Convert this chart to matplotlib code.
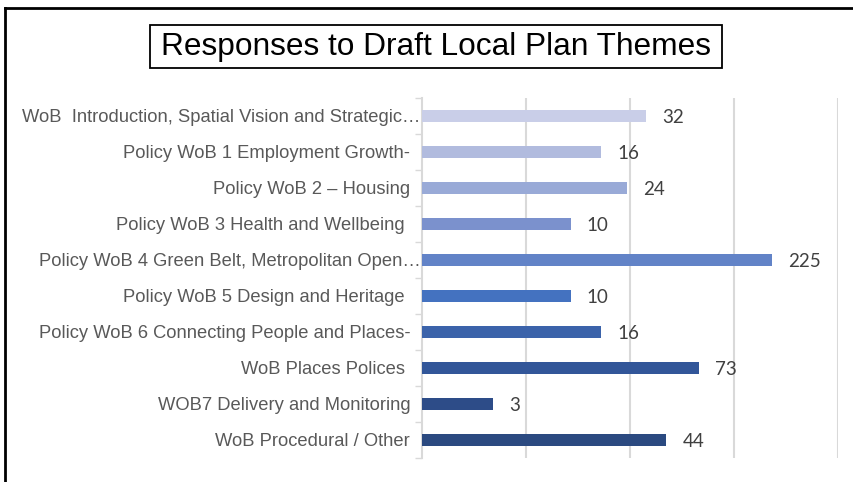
import matplotlib.pyplot as plt
from matplotlib.patches import Rectangle
from matplotlib.lines import Line2D
import numpy as np

labels = [
    "WoB  Introduction, Spatial Vision and Strategic\u2026",
    "Policy WoB 1 Employment Growth-  ",
    "Policy WoB 2 \u2013 Housing  ",
    "Policy WoB 3 Health and Wellbeing   ",
    "Policy WoB 4 Green Belt, Metropolitan Open\u2026",
    "Policy WoB 5 Design and Heritage   ",
    "Policy WoB 6 Connecting People and Places-  ",
    "WoB Places Polices   ",
    "WOB7 Delivery and Monitoring  ",
    "WoB Procedural / Other  ",
]
responses = [32, 16, 24, 10, 225, 10, 16, 73, 3, 44]
colours = ["#C9CEE8", "#B1BBDE", "#99AAD7", "#7B91CD", "#6283C7",
           "#4472C0", "#3B63AA", "#325699", "#2D4C88", "#2B4A80"]
grid_vals = [5, 25, 125, 625]

fig = plt.figure(figsize=(8.54, 4.82), dpi=100)
ax = fig.add_axes([0.494, 0.0498, 0.487, 0.747])

y = np.arange(len(labels))
# log axis starts at 1, so bars run from 1 up to the value
base = 1
ax.barh(y, [v - base for v in responses], height=0.31, left=base,
        color=colours, zorder=3)
ax.set_xscale("log", base=5)
ax.set_xlim(1, 625)
ax.set_ylim(len(labels) - 0.5, -0.5)

for yi, v in zip(y, responses):
    ax.annotate(str(v), (v, yi), xytext=(11.5, -1), textcoords="offset points",
                ha="left", va="center", fontsize=13.5, family="Lato",
                color="#404040")

ax.set_xticks(grid_vals)
ax.xaxis.set_minor_locator(plt.NullLocator())
ax.set_xticklabels([])
ax.tick_params(axis="x", length=0)
ax.grid(axis="x", color="#D9D9D9", linewidth=1.5, zorder=0)

ax.set_yticks(y)
ax.set_yticklabels(labels, fontsize=13.2, family="Liberation Sans", color="#595959")
ax.set_yticks(np.arange(len(labels) + 1) - 0.5, minor=True)
ax.tick_params(axis="y", which="major", length=0, pad=1)
ax.tick_params(axis="y", which="minor", length=5, color="#D9D9D9", width=1)

for side in ["top", "right", "bottom"]:
    ax.spines[side].set_visible(False)
ax.spines["left"].set_color("#D9D9D9")
ax.spines["left"].set_linewidth(1.5)

# boxed title
fig.patches.append(Rectangle((150 / 854, 1 - 68 / 482), 572 / 854, 43 / 482,
                             transform=fig.transFigure, facecolor="white",
                             edgecolor="black", linewidth=1.3))
fig.text(436 / 854, 1 - 47 / 482, "Responses to Draft Local Plan Themes",
         ha="center", va="center", fontsize=22.8, family="Liberation Sans",
         color="black")

# outer frame (top and left edges)
fig.add_artist(Line2D([5 / 854, 1], [1 - 8 / 482, 1 - 8 / 482],
                      transform=fig.transFigure, color="black", linewidth=2))
fig.add_artist(Line2D([5 / 854, 5 / 854], [0, 1 - 8 / 482],
                      transform=fig.transFigure, color="black", linewidth=2))

fig.savefig("out.png", dpi=100)
